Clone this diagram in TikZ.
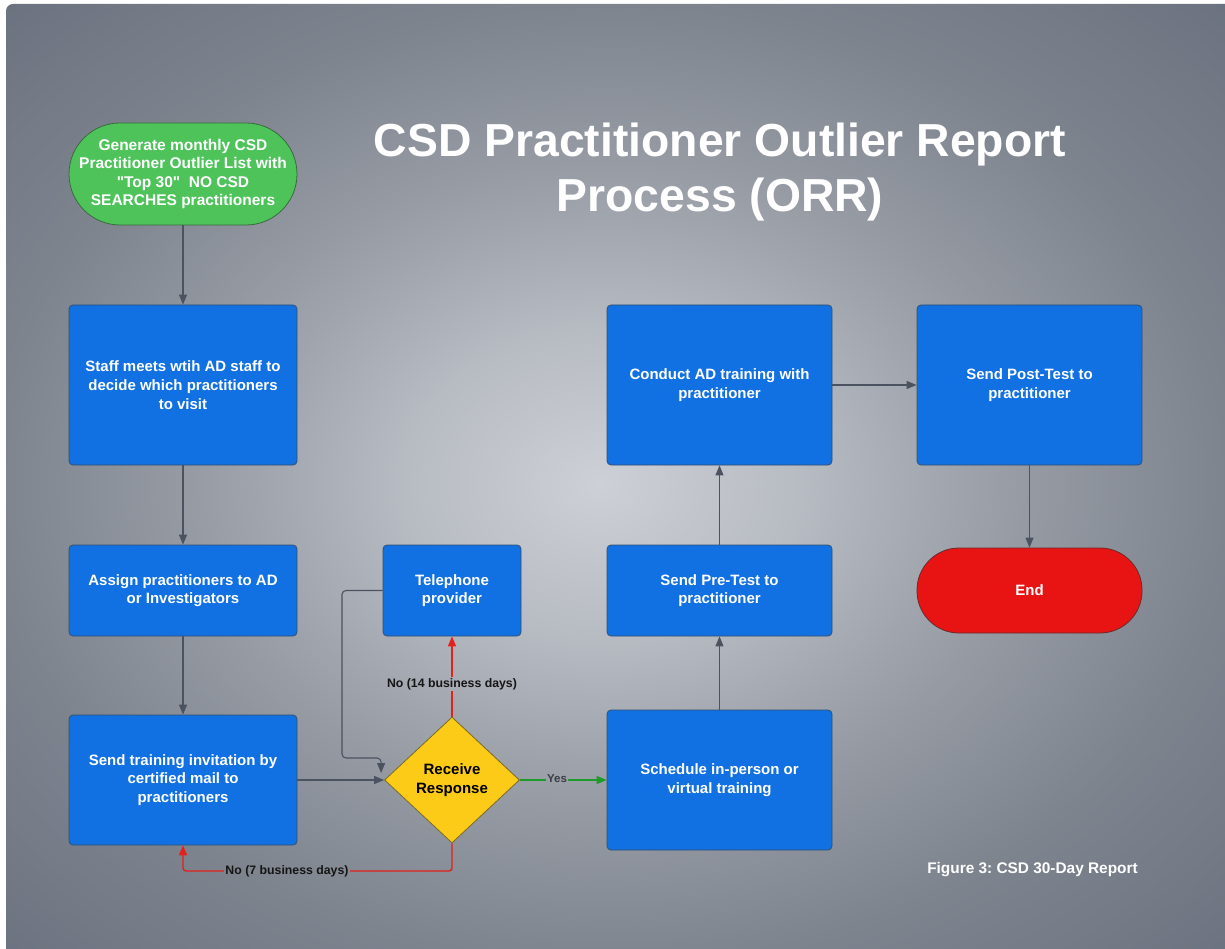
\documentclass[tikz,border=0pt]{standalone}
\usepackage{fontspec}
\setmainfont{Liberation Sans}
\usetikzlibrary{shapes.geometric,arrows.meta,calc}
\frenchspacing

\definecolor{panelA}{HTML}{CDD0D6}
\definecolor{panelB}{HTML}{B7BBC2}
\definecolor{panelC}{HTML}{959AA3}
\definecolor{panelD}{HTML}{7E848E}
\definecolor{panelE}{HTML}{6C7380}
\definecolor{procblue}{HTML}{1170E2}
\definecolor{procline}{HTML}{34506E}
\definecolor{startgreen}{HTML}{4DC35A}
\definecolor{startline}{HTML}{3A6A3E}
\definecolor{decyellow}{HTML}{FCCB17}
\definecolor{decline}{HTML}{7A6A22}
\definecolor{endred}{HTML}{E81414}
\definecolor{endline}{HTML}{6A2A2A}
\definecolor{flowgray}{HTML}{4B5260}
\definecolor{flowred}{HTML}{E3201C}
\definecolor{flowgreen}{HTML}{1E9A2A}
\definecolor{labelink}{HTML}{151515}
\definecolor{yesink}{HTML}{3A3F47}

\pgfdeclareradialshading{panelshade}{\pgfpoint{-1bp}{0bp}}{%
  color(0bp)=(panelA); color(8bp)=(panelB); color(17bp)=(panelC);
  color(25bp)=(panelD); color(35bp)=(panelE); color(50bp)=(panelE)}

\begin{document}
\begin{tikzpicture}[x=1pt,y=-1pt,
  boxtext/.style={font=\bfseries\fontsize{15}{18.7}\selectfont, align=center, inner sep=0pt},
  proc/.style={boxtext, draw=procline, line width=0.8pt, fill=procblue,
    rounded corners=4pt, text=white, minimum width=228pt},
  startnode/.style={boxtext, draw=startline, line width=0.8pt, fill=startgreen,
    rounded corners=51pt, text=white, minimum width=228pt, minimum height=102pt,
    font=\bfseries\fontsize{15.5}{18.5}\selectfont},
  endnode/.style={boxtext, draw=endline, line width=0.8pt, fill=endred,
    rounded corners=42pt, text=white, minimum width=225pt, minimum height=85pt},
  decision/.style={boxtext, diamond, draw=decline, line width=0.8pt, fill=decyellow,
    text=black, minimum width=135pt, minimum height=126pt},
  edgelabel/.style={font=\bfseries\fontsize{12.3}{14}\selectfont, text=labelink, inner sep=1.5pt},
  tip/.style={-{Triangle[length=10pt,width=8pt]}},
  flow/.style={draw=flowgray, line width=1.1pt, tip},
  redflow/.style={draw=flowred, line width=1.4pt},
  greenflow/.style={draw=flowgreen, line width=1.4pt}
]
\useasboundingbox (0,0) rectangle (1225,949);
\fill[white] (0,0) rectangle (1225,949);
\shade[shading=panelshade, rounded corners=7pt] (6,4) rectangle (1240,964);

% title and caption
\node[anchor=north, align=center, text=white, inner sep=0pt,
  font=\bfseries\fontsize{46.3}{55}\selectfont] (title) at (720,123)
  {CSD Practitioner Outlier Report\\Process (ORR)};
\node[text=white, inner sep=0pt, font=\bfseries\fontsize{15.4}{18}\selectfont]
  (caption) at (1032.5,870) {Figure 3: CSD 30-Day Report};

% left column
\node[startnode] (start) at (183,174)
  {Generate monthly CSD\\Practitioner Outlier List with\\\textquotedbl Top 30\textquotedbl~~NO CSD\\SEARCHES practitioners};
\node[proc, minimum height=160pt] (staff) at (183,385)
  {Staff meets wtih AD staff to\\decide which practitioners\\to visit};
\node[proc, minimum height=91pt] (assign) at (183,590.5)
  {Assign practitioners to AD\\or Investigators};
\node[proc, minimum height=130pt] (invite) at (183,780)
  {Send training invitation by\\certified mail to\\practitioners};

% decision and telephone follow-up
\node[decision] (resp) at (452,780) {Receive\\Response};
\node[proc, minimum width=138pt, minimum height=91pt] (phone) at (452,590.5)
  {Telephone\\provider};

% training column
\node[proc, minimum width=225pt, minimum height=140pt] (sched) at (719.5,780)
  {Schedule in-person or\\virtual training};
\node[proc, minimum width=225pt, minimum height=91pt] (pre) at (719.5,590.5)
  {Send Pre-Test to\\practitioner};
\node[proc, minimum width=225pt, minimum height=160pt] (conduct) at (719.5,385)
  {Conduct AD training with\\practitioner};

% right column
\node[proc, minimum width=225pt, minimum height=160pt] (post) at (1029.5,385)
  {Send Post-Test to\\practitioner};
\node[endnode] (end) at (1029.5,590.5) {End};

% edge labels
\node[edgelabel] (no14) at (452,684) {No (14 business days)};
\node[edgelabel, text=yesink, inner sep=1pt, font=\bfseries\fontsize{11.5}{13}\selectfont]
  (yes) at (557,779) {Yes};
\node[edgelabel] (no7) at (287,871) {No (7 business days)};

% main flow
\draw[flow] (start) -- (staff);
\draw[flow] (staff) -- (assign);
\draw[flow] (assign) -- (invite);
\draw[flow] (invite) -- (resp);
\draw[flow] (sched) -- (pre);
\draw[flow] (pre) -- (conduct);
\draw[flow] (conduct) -- (post);
\draw[flow] (post) -- (end);

% telephone loop back into the decision
\coordinate (phonebend) at (342,758);
\draw[flow, rounded corners=4pt] (phone.west) -| (phonebend) -| ([shift={(-3,-7)}]resp.west);

% decision outcomes
\draw[redflow] (resp.north) -- (no14.south);
\draw[redflow, tip] (no14.north) -- (phone.south);
\draw[greenflow] (resp.east) -- (resp.east -| yes.west);
\draw[greenflow, tip] (resp.east -| yes.east) -- (sched.west);
\draw[redflow, rounded corners=3pt] (resp.south) |- (no7.east);
\draw[redflow, tip, rounded corners=3pt] (no7.west) -| (invite.south);
\end{tikzpicture}
\end{document}
